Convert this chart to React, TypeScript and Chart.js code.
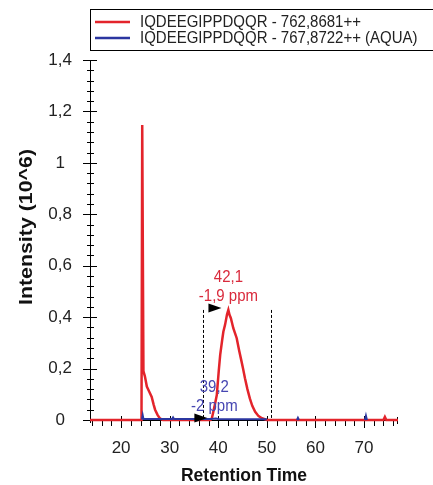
import React, { useEffect, useRef } from 'react';
import { Chart, registerables } from 'chart.js';

Chart.register(...registerables);

// ---- data ----
const seriesLabels = ['IQDEEGIPPDQQR - 762,8681++', 'IQDEEGIPPDQQR - 767,8722++ (AQUA)'];

const redRt = [13.6, 24.2, 24.35, 24.45, 24.6, 24.9, 25.3, 25.8, 26.3, 26.7, 27.0, 27.5, 28.0, 28.6,
  38.4, 38.7, 39.2, 39.7, 40.1, 40.4, 40.8, 41.05, 41.4, 41.8, 42.08, 42.3, 42.6, 42.8, 43.1, 43.5, 43.8,
  44.3, 44.8, 45.1, 45.5, 46.0, 46.5, 47.0, 47.6, 48.3, 49.0, 50.0, 74.0, 74.3, 74.6, 77.0];
const redIntensity = [0, 0, 1.147, 1.147, 0.19, 0.17, 0.13, 0.11, 0.09, 0.06, 0.04, 0.02, 0.006, 0,
  0, 0.008, 0.05, 0.097, 0.19, 0.253, 0.31, 0.343, 0.37, 0.41, 0.428, 0.41, 0.396, 0.38, 0.357, 0.335, 0.318,
  0.27, 0.227, 0.2, 0.162, 0.12, 0.084, 0.055, 0.032, 0.015, 0.007, 0, 0, 0.012, 0, 0];

const blueRt = [24.3, 24.45, 24.6, 30.5, 30.7, 30.9, 38.5, 39.5, 40.0, 50.0, 53.0, 56.2, 56.4, 56.6, 63.0, 70.2, 70.4, 70.6];
const blueIntensity = [0.002, 0.018, 0.004, 0.004, 0.01, 0.004, 0.004, 0.006, 0.004, 0.003, null, 0, 0.008, 0, null, 0, 0.016, 0];

const xTickValues = [20, 30, 40, 50, 60, 70];
const xMinorTickValues = [14, 16, 18, 22, 24, 26, 28, 32, 34, 36, 38, 42, 44, 46, 48, 52, 54, 56, 58, 62, 64, 66, 68, 72, 74, 76];
const yTickValues = [0, 0.2, 0.4, 0.6, 0.8, 1.0, 1.2, 1.4];
const yMinorTickValues = [0.04, 0.08, 0.12, 0.16, 0.24, 0.28, 0.32, 0.36, 0.44, 0.48, 0.52, 0.56, 0.64, 0.68, 0.72, 0.76,
  0.84, 0.88, 0.92, 0.96, 1.04, 1.08, 1.12, 1.16, 1.24, 1.28, 1.32, 1.36];

const peakRt = [42.1, 39.2];
const peakApex = [0.428, 0];
const peakRtLabels = ['42,1', '39,2'];
const peakPpmLabels = ['-1,9 ppm', '-2 ppm'];
const integrationBounds = [36.9, 50.8];

const xTitle = 'Retention Time';
const yTitle = 'Intensity (10^6)';

// ---- style ----
const RED = '#e3242b';
const BLUE = '#2b36a0';
const RED_TEXT = '#d92a3c';
const BLUE_TEXT = '#4646b2';
const FONT = '"Liberation Sans", Arial, sans-serif';

const fmt = (v: number) => String(Math.round(v * 10) / 10).replace('.', ',');

const customPlugin = {
  id: 'customDecor',
  beforeDatasetsDraw(chart: any) {
    const { ctx, chartArea } = chart;
    const xs = chart.scales.x;
    const ys = chart.scales.y;
    const L = chartArea.left;
    const B = chartArea.bottom;
    ctx.save();
    ctx.strokeStyle = '#000';
    ctx.lineWidth = 1;
    ctx.beginPath();
    // axes
    ctx.moveTo(L - 5, B + 0.5);
    ctx.lineTo(chartArea.right, B + 0.5);
    ctx.moveTo(L + 0.5, chartArea.top);
    ctx.lineTo(L + 0.5, B + 3);
    // x ticks
    xTickValues.forEach((v) => {
      const p = Math.round(xs.getPixelForValue(v)) + 0.5;
      ctx.moveTo(p, B - 4);
      ctx.lineTo(p, B + 8);
    });
    xMinorTickValues.forEach((v) => {
      const p = Math.round(xs.getPixelForValue(v)) + 0.5;
      ctx.moveTo(p, B);
      ctx.lineTo(p, B + 6);
    });
    const pr = Math.round(chartArea.right) - 0.5;
    ctx.moveTo(pr, B - 3);
    ctx.lineTo(pr, B + 4);
    // y ticks
    yTickValues.forEach((v) => {
      const p = Math.round(ys.getPixelForValue(v)) + 0.5;
      ctx.moveTo(L - 7, p);
      ctx.lineTo(L + 7, p);
    });
    yMinorTickValues.forEach((v) => {
      const p = Math.round(ys.getPixelForValue(v)) + 0.5;
      ctx.moveTo(L - 3, p);
      ctx.lineTo(L + 4, p);
    });
    ctx.stroke();
    ctx.restore();
  },
  afterDatasetsDraw(chart: any) {
    const { ctx } = chart;
    const xs = chart.scales.x;
    const ys = chart.scales.y;
    ctx.save();
    // integration boundaries
    ctx.strokeStyle = '#000';
    ctx.lineWidth = 1;
    ctx.setLineDash([3, 2]);
    const topPx = ys.getPixelForValue(peakApex[0]);
    integrationBounds.forEach((v) => {
      const p = Math.round(xs.getPixelForValue(v)) + 0.5;
      ctx.beginPath();
      ctx.moveTo(p, topPx);
      ctx.lineTo(p, ys.getPixelForValue(0));
      ctx.stroke();
    });
    ctx.setLineDash([]);
    // peak labels and arrows
    const colors = [RED_TEXT, BLUE_TEXT];
    peakRt.forEach((rt, i) => {
      const px = xs.getPixelForValue(rt);
      const py = ys.getPixelForValue(peakApex[i]);
      // arrow
      ctx.fillStyle = '#000';
      const tipX = px - 7;
      const tipY = py - 2;
      ctx.beginPath();
      ctx.moveTo(tipX, tipY);
      ctx.lineTo(tipX - 13, tipY - 4.5);
      ctx.lineTo(tipX - 13, tipY + 4.5);
      ctx.closePath();
      ctx.fill();
      // text
      ctx.fillStyle = colors[i];
      ctx.font = `15px ${FONT}`;
      ctx.textAlign = 'center';
      ctx.textBaseline = 'middle';
      [[peakRtLabels[i], -32.5], [peakPpmLabels[i], -14]].forEach(([t, dy]: any) => {
        ctx.save();
        ctx.translate(px, py + dy);
        ctx.scale(1, 1.12);
        ctx.fillText(t, 0, 0);
        ctx.restore();
      });
    });
    ctx.restore();
  },
  afterDraw(chart: any) {
    const { ctx, chartArea } = chart;
    ctx.save();
    // legend box
    ctx.strokeStyle = '#000';
    ctx.lineWidth = 1;
    ctx.strokeRect(90.5, 9.5, 360, 41);
    const legendColors = [RED, BLUE];
    const rowsY = [22, 38];
    seriesLabels.forEach((label, i) => {
      ctx.strokeStyle = legendColors[i];
      ctx.lineWidth = 2.5;
      ctx.beginPath();
      ctx.moveTo(95, rowsY[i]);
      ctx.lineTo(130, rowsY[i]);
      ctx.stroke();
      ctx.fillStyle = '#222';
      ctx.font = `15px ${FONT}`;
      ctx.textAlign = 'left';
      ctx.textBaseline = 'middle';
      ctx.save();
      ctx.translate(140, rowsY[i]);
      ctx.scale(1, 1.12);
      ctx.fillText(label, 0, 0);
      ctx.restore();
    });
    // axis titles
    ctx.fillStyle = '#111';
    ctx.font = `bold 17.5px ${FONT}`;
    ctx.textAlign = 'center';
    ctx.textBaseline = 'middle';
    ctx.fillText(xTitle, (chartArea.left + chartArea.right) / 2, 476);
    ctx.save();
    ctx.translate(27, 227);
    ctx.rotate(-Math.PI / 2);
    ctx.scale(1.22, 1);
    ctx.fillText(yTitle, 0, 0);
    ctx.restore();
    ctx.restore();
  },
};

export default function App() {
  const canvasRef = useRef<HTMLCanvasElement | null>(null);

  useEffect(() => {
    document.body.style.margin = '0';
    const canvas = canvasRef.current;
    if (!canvas) return;
    const chart = new Chart(canvas, {
      type: 'line',
      data: {
        datasets: [
          {
            label: seriesLabels[1],
            data: blueRt.map((x, i) => ({ x, y: blueIntensity[i] })) as any,
            borderColor: BLUE,
            borderWidth: 2,
            pointRadius: 0,
            tension: 0,
            spanGaps: false,
            clip: false as any,
            order: 0,
          },
          {
            label: seriesLabels[0],
            data: redRt.map((x, i) => ({ x, y: redIntensity[i] })),
            borderColor: RED,
            borderWidth: 2.5,
            pointRadius: 0,
            tension: 0,
            clip: false as any,
            order: 1,
          },
        ],
      },
      options: {
        animation: false,
        responsive: true,
        maintainAspectRatio: false,
        layout: { padding: { top: 60, right: 35, left: 0, bottom: 0 } },
        plugins: { legend: { display: false }, tooltip: { enabled: false } },
        scales: {
          x: {
            type: 'linear',
            min: 13.6,
            max: 77,
            grid: { display: false, drawTicks: false },
            border: { display: false },
            ticks: {
              font: { family: FONT, size: 17 },
              color: '#222',
              padding: 18,
              maxRotation: 0,
              autoSkip: false,
              callback: (v: any) => String(v),
            },
            afterBuildTicks: (s: any) => {
              s.ticks = xTickValues.map((v) => ({ value: v }));
            },
            afterFit: (s: any) => {
              s.height = 65;
            },
          },
          y: {
            type: 'linear',
            min: 0,
            max: 1.4,
            grid: { display: false, drawTicks: false },
            border: { display: false },
            ticks: {
              font: { family: FONT, size: 17 },
              color: '#222',
              padding: 18,
              crossAlign: 'center',
              autoSkip: false,
              callback: (v: any) => fmt(Number(v)),
            },
            afterBuildTicks: (s: any) => {
              s.ticks = yTickValues.map((v) => ({ value: v }));
            },
            afterFit: (s: any) => {
              s.width = 90;
            },
          },
        },
      },
      plugins: [customPlugin],
    });
    return () => chart.destroy();
  }, []);

  return (
    <div style={{ position: 'relative', width: 433, height: 485 }}>
      <canvas ref={canvasRef} />
    </div>
  );
}
